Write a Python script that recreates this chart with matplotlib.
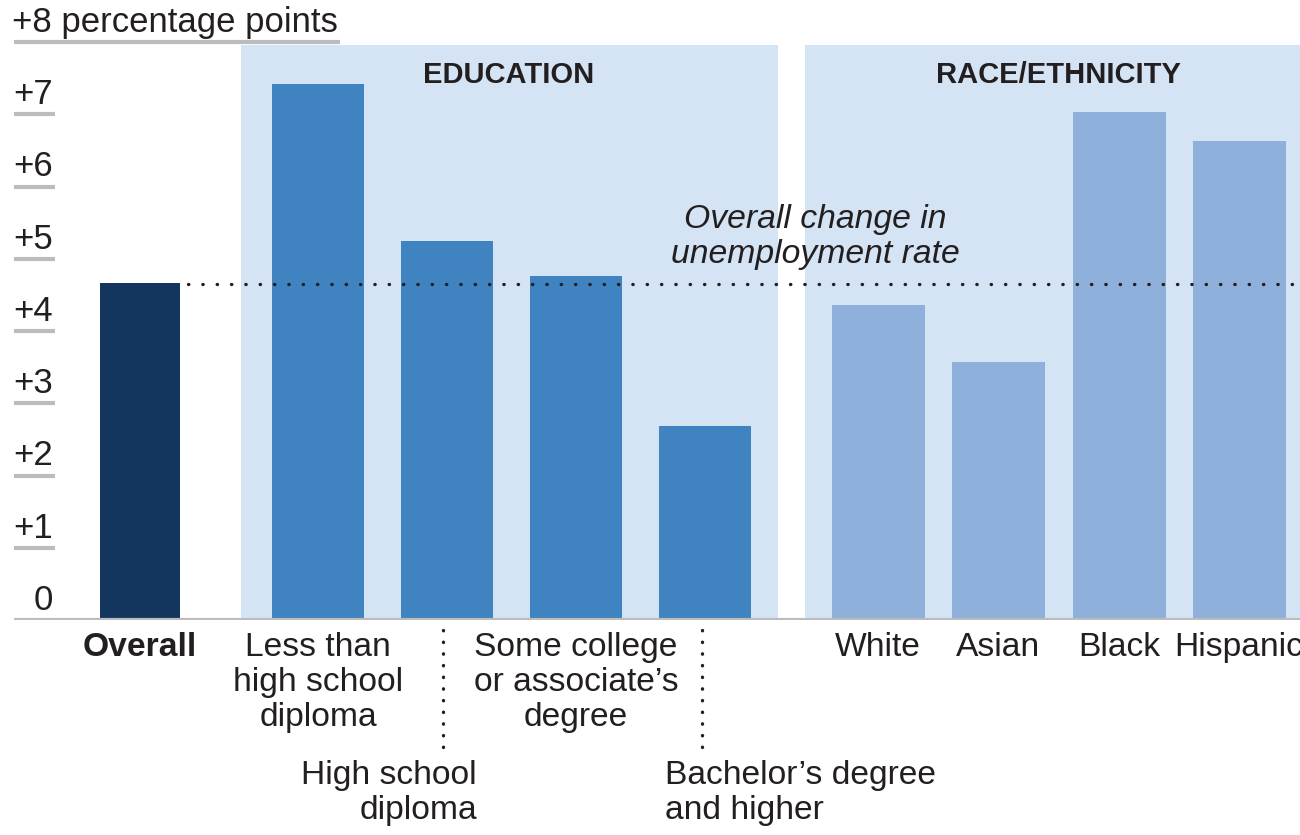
import matplotlib.pyplot as plt

plt.rcParams['font.family'] = ['Liberation Sans', 'DejaVu Sans']

# Data
categories = ['Overall', 'Less than\nhigh school\ndiploma', 'High school\ndiploma',
              'Some college\nor associate\u2019s\ndegree', 'Bachelor\u2019s degree\nand higher',
              'White', 'Asian', 'Black', 'Hispanic']
groups = ['overall', 'edu', 'edu', 'edu', 'edu', 'race', 'race', 'race', 'race']
values = [4.66, 7.42, 5.25, 4.76, 2.69, 4.36, 3.57, 7.03, 6.63]
overall_change = 4.65
y_ticks = [0, 1, 2, 3, 4, 5, 6, 7]
y_tick_labels = ['0', '+1', '+2', '+3', '+4', '+5', '+6', '+7']
section_titles = ['EDUCATION', 'RACE/ETHNICITY']

# Layout (x in pixel-like units of the 1300 px wide figure)
x_pos = [140, 318, 447, 576, 705, 878, 998, 1119, 1239]
widths = [80, 92, 92, 92, 92, 93, 93, 93, 93]
colors = {'overall': '#14365e', 'edu': '#3f83c1', 'race': '#8eb0db'}
bg = '#d4e4f4'
text_col = '#231f20'
grid_col = '#bcbcbc'

px = 578 / 8  # pixels per unit


def py(y_pixel):
    # pixel row -> data value
    return (620 - y_pixel) / px


fig = plt.figure(figsize=(13, 8.35), dpi=100)
ax = fig.add_axes([0, 215 / 835, 1, 578 / 835])
ax.set_xlim(0, 1300)
ax.set_ylim(0, 8)
ax.axis('off')

# shaded sections
top = py(45)
ax.fill_between([241, 778], 0, top, color=bg, lw=0, zorder=0)
ax.fill_between([805, 1300], 0, top, color=bg, lw=0, zorder=0)
ax.text(509, py(75), section_titles[0], ha='center', va='center', fontsize=21,
        fontweight='bold', color=text_col)
ax.text(1058, py(75), section_titles[1], ha='center', va='center', fontsize=21,
        fontweight='bold', color=text_col)

# bars
ax.bar(x_pos, values, width=widths, color=[colors[g] for g in groups], zorder=2)

# overall change dotted line
ax.plot([188, 1300], [overall_change, overall_change], color=text_col, lw=2.4,
        ls=(0, (0.1, 4.2)), dash_capstyle='round', zorder=3, clip_on=False)
ax.text(815, py(237), 'Overall change in\nunemployment rate', ha='center', va='center',
        fontsize=24.3, style='italic', color=text_col, linespacing=1.17)

# y axis labels with short underlines
for t, lab in zip(y_ticks, y_tick_labels):
    if t > 0:
        ax.plot([14, 55], [t, t], color=grid_col, lw=3, solid_capstyle='butt', zorder=1)
    ax.text(53, t + 0.27, lab, ha='right', va='center', fontsize=25, color=text_col)
ax.text(12, 8 + 0.27, '+8 percentage points', ha='left', va='center', fontsize=25,
        color=text_col, clip_on=False)
ax.plot([14, 340], [8, 8], color=grid_col, lw=3, solid_capstyle='butt', clip_on=False)

# baseline
ax.plot([14, 1300], [0, 0], color=grid_col, lw=3, solid_capstyle='butt', zorder=4)

# category labels
for i, (x, lab) in enumerate(zip(x_pos, categories)):
    kw = dict(fontsize=24.2, color=text_col, va='top', linespacing=1.17, clip_on=False)
    if i == 0:
        ax.text(x, py(632), lab, ha='center', fontweight='bold', **kw)
    elif i == 2:
        ax.text(477, py(760), lab, ha='right', multialignment='right', **kw)
        ax.plot([x - 4, x - 4], [py(630), py(757)], color=text_col, lw=2.4,
                ls=(0, (0.1, 3.4)), dash_capstyle='round', clip_on=False)
    elif i == 4:
        ax.text(665, py(760), lab, ha='left', **kw)
        ax.plot([x - 3, x - 3], [py(630), py(757)], color=text_col, lw=2.4,
                ls=(0, (0.1, 3.4)), dash_capstyle='round', clip_on=False)
    else:
        ax.text(x, py(632), lab, ha='center', multialignment='center', **kw)

fig.savefig('out.png', dpi=100)
